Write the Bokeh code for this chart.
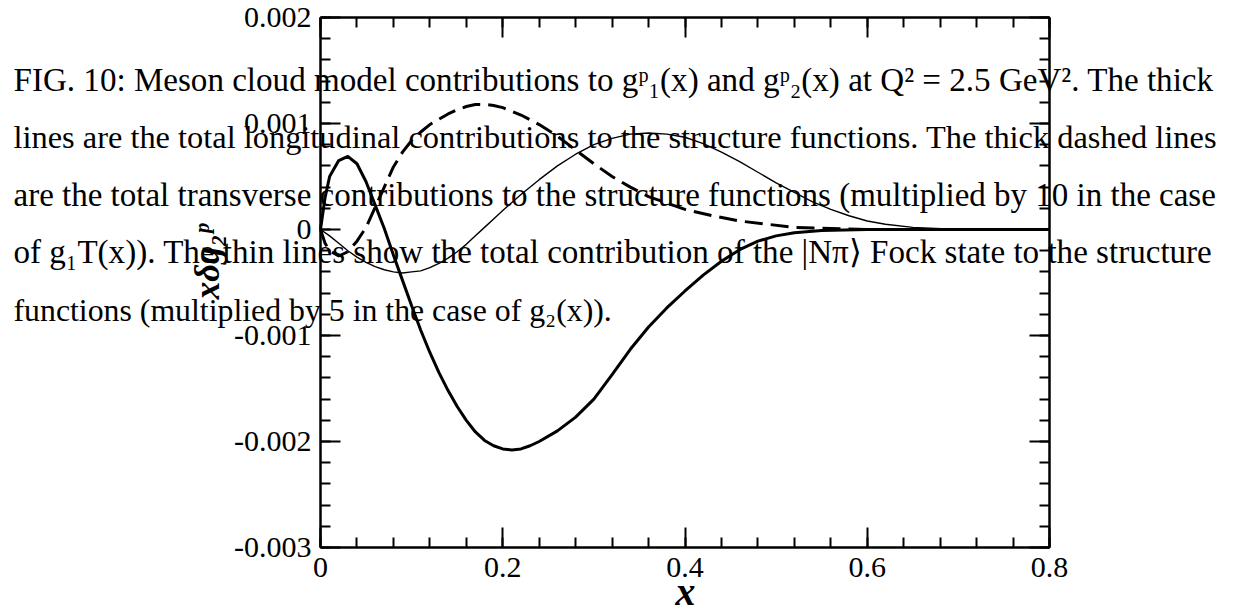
import math
from bokeh.plotting import figure
from bokeh.models import Range1d, LinearAxis, FixedTicker, Label
from bokeh.embed import file_html
from bokeh.resources import INLINE

# ---------------- data ----------------
# thick solid: total longitudinal contribution
x_long = [0, 0.005, 0.01, 0.02, 0.03, 0.04, 0.05, 0.06, 0.07, 0.08, 0.09, 0.10, 0.11, 0.12,
          0.13, 0.14, 0.15, 0.16, 0.17, 0.18, 0.19, 0.20, 0.21, 0.22, 0.23, 0.24, 0.26, 0.28,
          0.30, 0.32, 0.34, 0.36, 0.38, 0.40, 0.42, 0.44, 0.46, 0.48, 0.50, 0.52, 0.55, 0.60,
          0.70, 0.80]
y_long = [0, 0.0003, 0.0005, 0.00065, 0.00069, 0.00062, 0.00045, 0.00023, 0.00001, -0.00024,
          -0.00048, -0.00072, -0.00095, -0.00116, -0.00135, -0.00152, -0.00167, -0.00180,
          -0.00191, -0.00199, -0.00204, -0.00207, -0.00208, -0.00207, -0.00204, -0.00200,
          -0.00190, -0.00177, -0.00160, -0.00137, -0.00113, -0.00092, -0.00074, -0.00058,
          -0.00043, -0.00030, -0.00019, -0.00011, -0.00006, -0.00003, -0.00001, 0, 0, 0]

# thick dashed: total transverse contribution
x_trans = [0, 0.005, 0.01, 0.02, 0.03, 0.04, 0.05, 0.06, 0.07, 0.08, 0.09, 0.10, 0.11, 0.12,
           0.13, 0.14, 0.15, 0.16, 0.17, 0.18, 0.19, 0.20, 0.22, 0.24, 0.26, 0.28, 0.30, 0.32,
           0.34, 0.36, 0.38, 0.40, 0.43, 0.46, 0.49, 0.52, 0.56, 0.60, 0.70, 0.80]
y_trans = [0, -0.00013, -0.0002, -0.00025, -0.00021, -0.00011, 0.00002, 0.00021, 0.0004,
           0.00059, 0.00073, 0.00084, 0.00092, 0.00099, 0.00104, 0.00109, 0.00113, 0.00116,
           0.00118, 0.00118, 0.00117, 0.00115, 0.00108, 0.00099, 0.00088, 0.00075, 0.00062,
           0.0005, 0.0004, 0.00031, 0.00025, 0.00019, 0.00013, 0.00008, 0.00005, 0.00002,
           0.00001, 0, 0, 0]

# thin solid: |N pi> Fock state contribution
x_npi = [0, 0.01, 0.02, 0.03, 0.04, 0.05, 0.06, 0.07, 0.08, 0.09, 0.10, 0.11, 0.12, 0.13,
         0.14, 0.15, 0.16, 0.17, 0.18, 0.19, 0.20, 0.22, 0.24, 0.26, 0.28, 0.30, 0.32, 0.34,
         0.36, 0.38, 0.40, 0.42, 0.44, 0.46, 0.48, 0.50, 0.52, 0.54, 0.56, 0.58, 0.60, 0.62,
         0.65, 0.70, 0.80]
y_npi = [0, -0.00006, -0.00013, -0.0002, -0.00026, -0.00031, -0.00035, -0.00038, -0.0004,
         -0.00041, -0.0004, -0.00039, -0.00036, -0.00032, -0.00027, -0.00021, -0.00014,
         -0.00006, 0.00002, 0.0001, 0.00018, 0.00033, 0.00047, 0.0006, 0.00071, 0.0008,
         0.00086, 0.0009, 0.00091, 0.0009, 0.00087, 0.00081, 0.00073, 0.00064, 0.00054,
         0.00044, 0.00035, 0.00026, 0.00019, 0.00013, 0.00008, 0.00005, 0.00002, 0, 0]

x_ticks = [0, 0.2, 0.4, 0.6, 0.8]
x_tick_labels = ["0", "0.2", "0.4", "0.6", "0.8"]
x_minor_ticks = [0, 0.04, 0.08, 0.12, 0.16, 0.2, 0.24, 0.28, 0.32, 0.36, 0.4, 0.44, 0.48,
                 0.52, 0.56, 0.6, 0.64, 0.68, 0.72, 0.76, 0.8]
y_ticks = [-0.003, -0.002, -0.001, 0, 0.001, 0.002]
y_tick_labels = ["-0.003", "-0.002", "-0.001", "0", "0.001", "0.002"]
y_minor_ticks = [-0.003, -0.0028, -0.0026, -0.0024, -0.0022, -0.002, -0.0018, -0.0016,
                 -0.0014, -0.0012, -0.001, -0.0008, -0.0006, -0.0004, -0.0002, 0, 0.0002,
                 0.0004, 0.0006, 0.0008, 0.001, 0.0012, 0.0014, 0.0016, 0.0018, 0.002]

x_label = "x"
y_label = "xδg₂ᵖ"
caption_lines = [
    "FIG. 10: Meson cloud model contributions to gᵖ₁(x) and gᵖ₂(x) at Q² = 2.5 GeV². The thick",
    "lines are the total longitudinal contributions to the structure functions. The thick dashed lines",
    "are the total transverse contributions to the structure functions (multiplied by 10 in the case",
    "of g₁T(x)). The thin lines show the total contribution of the |Nπ⟩ Fock state to the structure",
    "functions (multiplied by 5 in the case of g₂(x)).",
]

# ---------------- layout ----------------
W, H = 1233, 616
XMIN, XMAX, YMIN, YMAX = 0, 0.8, -0.003, 0.002
FL, FR, FT, FB = 320, 1049, 17, 547   # plot-box edges in canvas pixels


def xd(px):
    return XMIN + (px - FL) / (FR - FL) * (XMAX - XMIN)


def yd(py):
    return YMAX - (py - FT) / (FB - FT) * (YMAX - YMIN)


# the drawing frame covers the whole canvas; the plot box is made of fixed axes
p = figure(width=W, height=H, x_range=Range1d(xd(0), xd(W)), y_range=Range1d(yd(H), yd(0)),
           output_backend="svg", toolbar_location=None,
           x_axis_location=None, y_axis_location=None,
           min_border_left=0, min_border_right=0, min_border_top=0, min_border_bottom=0)
p.outline_line_color = None
p.grid.visible = False
p.background_fill_color = "white"
p.border_fill_color = "white"

SERIF = "Liberation Serif"


def make_axis(ticks, minor, labels, show_labels, loc, bounds):
    ax = LinearAxis(ticker=FixedTicker(ticks=ticks, minor_ticks=minor),
                    fixed_location=loc, bounds=bounds)
    ax.axis_line_width = 2.5
    ax.axis_line_color = "black"
    ax.major_tick_in = 20
    ax.major_tick_out = 0
    ax.minor_tick_in = 10
    ax.minor_tick_out = 0
    ax.major_tick_line_width = 2
    ax.minor_tick_line_width = 2
    ax.major_tick_line_color = "black"
    ax.minor_tick_line_color = "black"
    if show_labels:
        ax.major_label_overrides = dict(zip(ticks, labels))
        ax.major_label_text_font = SERIF
        ax.major_label_text_font_size = "30px"
        ax.major_label_text_color = "black"
    else:
        ax.major_label_text_color = None
        ax.major_label_standoff = 0
    return ax


bottom = make_axis(x_ticks, x_minor_ticks, x_tick_labels, True, YMIN, (XMIN, XMAX))
bottom.major_label_standoff = 10
left = make_axis(y_ticks, y_minor_ticks, y_tick_labels, True, XMIN, (YMIN, YMAX))
left.major_label_standoff = 9
top = make_axis(x_ticks, x_minor_ticks, x_tick_labels, False, YMAX, (XMIN, XMAX))
right = make_axis(y_ticks, y_minor_ticks, y_tick_labels, False, XMAX, (YMIN, YMAX))
p.add_layout(bottom, "below")
p.add_layout(left, "left")
p.add_layout(top, "above")
p.add_layout(right, "right")

# curves
p.line(x_long, y_long, line_color="black", line_width=3)
p.line(x_trans, y_trans, line_color="black", line_width=3, line_dash="18 8")
p.line(x_npi, y_npi, line_color="black", line_width=1.4)

BASE_SHIFT = 0.35   # Bokeh places the alphabetic baseline about 0.35 em lower


def base_y(py, size):
    return yd(py - BASE_SHIFT * size)


# axis titles
p.add_layout(Label(x=xd(685), y=base_y(605, 40), text=x_label, text_font=SERIF,
                   text_font_style="bold italic", text_font_size="40px",
                   text_align="center", text_baseline="alphabetic", text_color="black"))
p.add_layout(Label(x=xd(207), y=yd(261), text=y_label, text_font=SERIF,
                   text_font_style="bold italic", text_font_size="35px",
                   text_align="center", text_baseline="middle", angle=math.pi / 2,
                   text_color="black"))

# caption (overlapping the plot, as in the reference)
baselines = [91, 148, 206, 263, 321]
sizes = [33.1, 32.4, 33.0, 33.1, 31.8]
for line, b, s in zip(caption_lines, baselines, sizes):
    p.add_layout(Label(x=xd(13), y=base_y(b, s), text=line, text_font=SERIF,
                       text_font_size=f"{s}px", text_align="left",
                       text_baseline="alphabetic", text_color="black"))

open("out.html", "w").write(file_html(p, INLINE))
